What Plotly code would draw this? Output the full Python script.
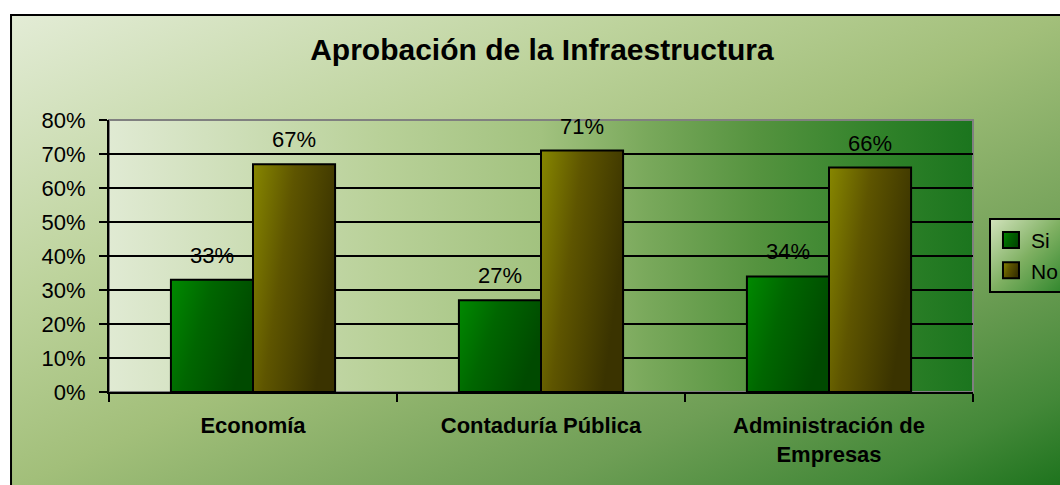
import base64

import plotly.graph_objects as go

CATEGORIES = ["Economía", "Contaduría Pública", "Administración de Empresas"]
TICK_TEXT = ["Economía", "Contaduría Pública", "Administración de<br>Empresas"]
SI = [0.33, 0.27, 0.34]
NO = [0.67, 0.71, 0.66]
SERIES = {"Si": SI, "No": NO}

FONT = "Arial, 'Liberation Sans', sans-serif"
BAR_COLORS = {"Si": "#006400", "No": "#5e5600"}
BAR_SHIFT = {"Si": -41, "No": 41}

# plot area spans x 109..973 px, y 120..392 px of the 1060x485 page
MARGIN = {"l": 109, "r": 87, "t": 120, "b": 93}


def svg_gradient(x2, y2, stops):
    """Returns a data uri of a stretched svg filled with a linear gradient."""
    stop_str = "".join(
        f'<stop offset="{o}" stop-color="{c}"/>' for o, c in stops
    )
    svg = (
        '<svg xmlns="http://www.w3.org/2000/svg" width="100" height="100" '
        'viewBox="0 0 100 100" preserveAspectRatio="none">'
        f'<defs><linearGradient id="g" x1="0" y1="0" x2="{x2}" y2="{y2}">'
        f"{stop_str}</linearGradient></defs>"
        '<rect width="100" height="100" fill="url(#g)"/></svg>'
    )
    return "data:image/svg+xml;base64," + base64.b64encode(svg.encode()).decode()


CHART_BG = svg_gradient(1, 1, [
    (0, "#e3ecd6"), (0.3, "#bdd39c"), (0.5, "#a2bf7a"),
    (0.75, "#6e9e55"), (0.9, "#438838"), (1, "#1c721c"),
])
PLOT_BG = svg_gradient(1, 0, [
    (0, "#e0ead3"), (0.31, "#b9d199"), (0.5, "#a2c27f"),
    (0.62, "#7aa95c"), (0.75, "#55933f"), (0.9, "#2f8129"), (1, "#1b751e"),
])

fig = go.Figure()
for name, values in SERIES.items():
    fig.add_trace(
        go.Bar(
            x=CATEGORIES,
            y=values,
            name=name,
            marker={"color": BAR_COLORS[name], "line": {"color": "black", "width": 2}},
        )
    )
    # value labels sit well above the bars, as in the original
    for cat, v in zip(CATEGORIES, values):
        fig.add_annotation(
            x=cat, y=v, text=f"{v:.0%}", showarrow=False,
            xshift=BAR_SHIFT[name], yshift=10, yanchor="bottom",
            font={"family": FONT, "size": 22, "color": "black"},
        )

fig.update_layout(
    width=1060,
    height=485,
    margin={**MARGIN, "autoexpand": False},
    paper_bgcolor="white",
    plot_bgcolor="rgba(0,0,0,0)",
    barmode="group",
    bargap=0.43,
    bargroupgap=0,
    font={"family": FONT, "color": "black"},
    title={
        "text": "<b>Aprobación de la Infraestructura</b>",
        "font": {"size": 30, "color": "black"},
        "x": 0.501, "xref": "paper", "xanchor": "center",
        "y": 0.897, "yref": "container", "yanchor": "middle",
    },
    legend={
        "x": 1.0185, "xanchor": "left", "y": 0.64, "yanchor": "top",
        "bgcolor": "#8cb66c", "bordercolor": "black", "borderwidth": 2,
        "font": {"size": 21, "color": "black"},
    },
    images=[
        dict(source=CHART_BG, xref="paper", yref="paper", x=-0.1134, y=1.386,
             sizex=1.22, sizey=1.74, xanchor="left", yanchor="top",
             sizing="stretch", layer="below"),
        dict(source=PLOT_BG, xref="paper", yref="paper", x=0, y=1,
             sizex=1, sizey=1, xanchor="left", yanchor="top",
             sizing="stretch", layer="below"),
    ],
    shapes=[
        # outer chart frame, cut off by the right and bottom page edges
        dict(type="rect", xref="paper", yref="paper", x0=-0.1134, x1=1.12,
             y0=-0.37, y1=1.386, line={"color": "black", "width": 2}, layer="above"),
        # grey plot area border (top/right)
        dict(type="rect", xref="paper", yref="paper", x0=0, x1=1, y0=0, y1=1,
             line={"color": "#808080", "width": 2}, layer="below"),
    ],
)

fig.update_xaxes(
    tickvals=CATEGORIES,
    ticktext=[f"<b>{t}</b>" for t in TICK_TEXT],
    tickfont={"size": 22, "color": "black"},
    showline=True, linecolor="black", linewidth=2,
    ticks="outside", tickson="boundaries", ticklen=8, tickwidth=2, tickcolor="black",
    ticklabelstandoff=13,
    showgrid=False,
)
fig.update_yaxes(
    range=[0, 0.8],
    dtick=0.1,
    tickformat=".0%",
    tickfont={"size": 22, "color": "black"},
    showline=True, linecolor="black", linewidth=2,
    ticks="outside", ticklen=8, tickwidth=2, tickcolor="black",
    ticklabelstandoff=9,
    showgrid=True, gridcolor="black", gridwidth=2,
    zeroline=False,
)

# plotly bars have flat fills; paint the Excel-like gradients onto the svg
POST_SCRIPT = """
document.body.style.margin = '0';
var gd = document.getElementById('{plot_id}');
var NS = 'http://www.w3.org/2000/svg';
var GRADS = {
  barg0: [1, 0.4, [[0, '#008a00'], [0.45, '#006600'], [1, '#004a00']]],
  barg1: [1, 0.4, [[0, '#878700'], [0.45, '#5e5500'], [1, '#3a3300']]],
  legg: [1, 1, [[0, '#d3e3bd'], [0.5, '#7fb062'], [1, '#2f862c']]]
};
function paint() {
  var defs = gd.querySelector('svg.main-svg defs');
  if (!defs) return;
  Object.keys(GRADS).forEach(function (id) {
    if (document.getElementById(id)) return;
    var d = GRADS[id];
    var g = document.createElementNS(NS, 'linearGradient');
    g.setAttribute('id', id);
    g.setAttribute('x1', '0'); g.setAttribute('y1', '0');
    g.setAttribute('x2', d[0]); g.setAttribute('y2', d[1]);
    d[2].forEach(function (s) {
      var st = document.createElementNS(NS, 'stop');
      st.setAttribute('offset', s[0]);
      st.setAttribute('stop-color', s[1]);
      g.appendChild(st);
    });
    defs.appendChild(g);
  });
  gd.querySelectorAll('.barlayer .trace').forEach(function (tr, i) {
    tr.querySelectorAll('.point path').forEach(function (p) {
      p.style.fill = 'url(#barg' + i + ')';
    });
  });
  gd.querySelectorAll('.legend .traces').forEach(function (tr, i) {
    tr.querySelectorAll('.legendpoints path').forEach(function (p) {
      p.setAttribute('d', 'M8,8H-8V-8H8Z');
      p.style.fill = 'url(#barg' + i + ')';
    });
  });
  var lb = gd.querySelector('.legend rect.bg');
  if (lb) lb.style.fill = 'url(#legg)';
}
paint();
gd.on('plotly_afterplot', paint);
"""

fig.write_html("out.html", post_script=POST_SCRIPT, config={"displayModeBar": False})
